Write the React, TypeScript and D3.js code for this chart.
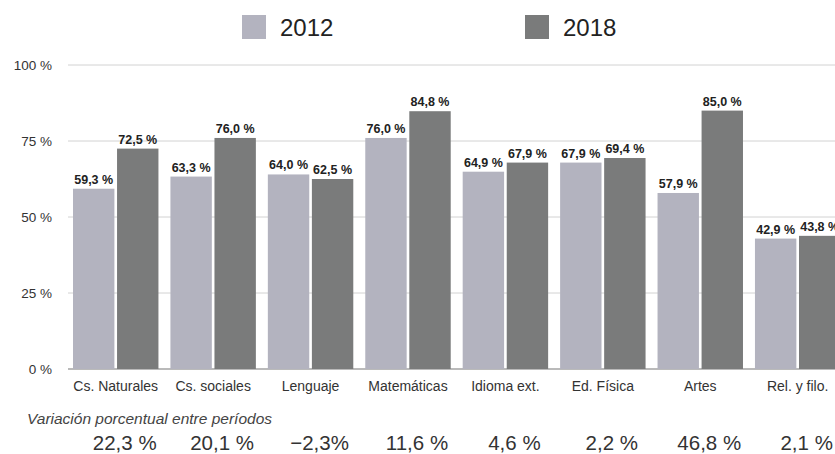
import React from "react";
import * as d3 from "d3";

const categories = ["Cs. Naturales", "Cs. sociales", "Lenguaje", "Matemáticas", "Idioma ext.", "Ed. Física", "Artes", "Rel. y filo."];
const series = ["2012", "2018"];
const values2012 = [59.3, 63.3, 64.0, 76.0, 64.9, 67.9, 57.9, 42.9];
const values2018 = [72.5, 76.0, 62.5, 84.8, 67.9, 69.4, 85.0, 43.8];
const variation = ["22,3 %", "20,1 %", "\u22122,3%", "11,6 %", "4,6 %", "2,2 %", "46,8 %", "2,1 %"];
const yTicks = [0, 25, 50, 75, 100];
const variationTitle = "Variación porcentual entre períodos";

const W = 835;
const H = 454;
const colors = ["#b3b3bf", "#7a7b7b"];
const font = "'Liberation Sans', Arial, Helvetica, sans-serif";

export default function App() {
  const x0 = d3.scaleBand<string>().domain(categories).range([73, 840.4]).paddingInner(0.123).paddingOuter(0);
  const x1 = d3.scaleBand<string>().domain(series).range([0, x0.bandwidth()]).paddingInner(0.06);
  const y = d3.scaleLinear().domain([0, 100]).range([369, 65]);
  const fmt = (v: number) => v.toFixed(1).replace(".", ",") + " %";
  const data = [values2012, values2018];

  return (
    <svg width={W} height={H} style={{ position: "absolute", left: 0, top: 0, background: "#fff" }} fontFamily={font}>
      {/* legend */}
      <rect x={242} y={15} width={24} height={24} fill={colors[0]} />
      <text x={280} y={36} fontSize={24} fill="#222">{series[0]}</text>
      <rect x={525} y={15} width={24} height={24} fill={colors[1]} />
      <text x={563} y={36} fontSize={24} fill="#222">{series[1]}</text>

      {/* grid */}
      {yTicks.map((t) => (
        <g key={t}>
          <line x1={68} x2={W} y1={y(t)} y2={y(t)} stroke={t === 0 ? "#777" : "#d2d2d2"} strokeWidth={t === 0 ? 1.2 : 1} />
          <text x={52} y={y(t) + 4.5} fontSize={13.5} textAnchor="end" fill="#333">{t} %</text>
        </g>
      ))}

      {/* bars */}
      {categories.map((c, i) => (
        <g key={c} transform={`translate(${x0(c)},0)`}>
          {series.map((s, j) => {
            const v = data[j][i];
            const bx = x1(s)!;
            return (
              <g key={s}>
                <rect x={bx} y={y(v)} width={x1.bandwidth()} height={y(0) - y(v)} fill={colors[j]} />
                <text x={bx + x1.bandwidth() / 2} y={y(v) - 5} fontSize={12.5} fontWeight="bold" textAnchor="middle" fill="#222">{fmt(v)}</text>
              </g>
            );
          })}
          <text x={x0.bandwidth() / 2} y={391} fontSize={14} textAnchor="middle" fill="#333">{c}</text>
          <text x={x0.bandwidth() / 2 + 9} y={450} fontSize={20.5} textAnchor="middle" fill="#333">{variation[i]}</text>
        </g>
      ))}

      <text x={27} y={424} fontSize={15.5} fontStyle="italic" fill="#444">{variationTitle}</text>
    </svg>
  );
}
